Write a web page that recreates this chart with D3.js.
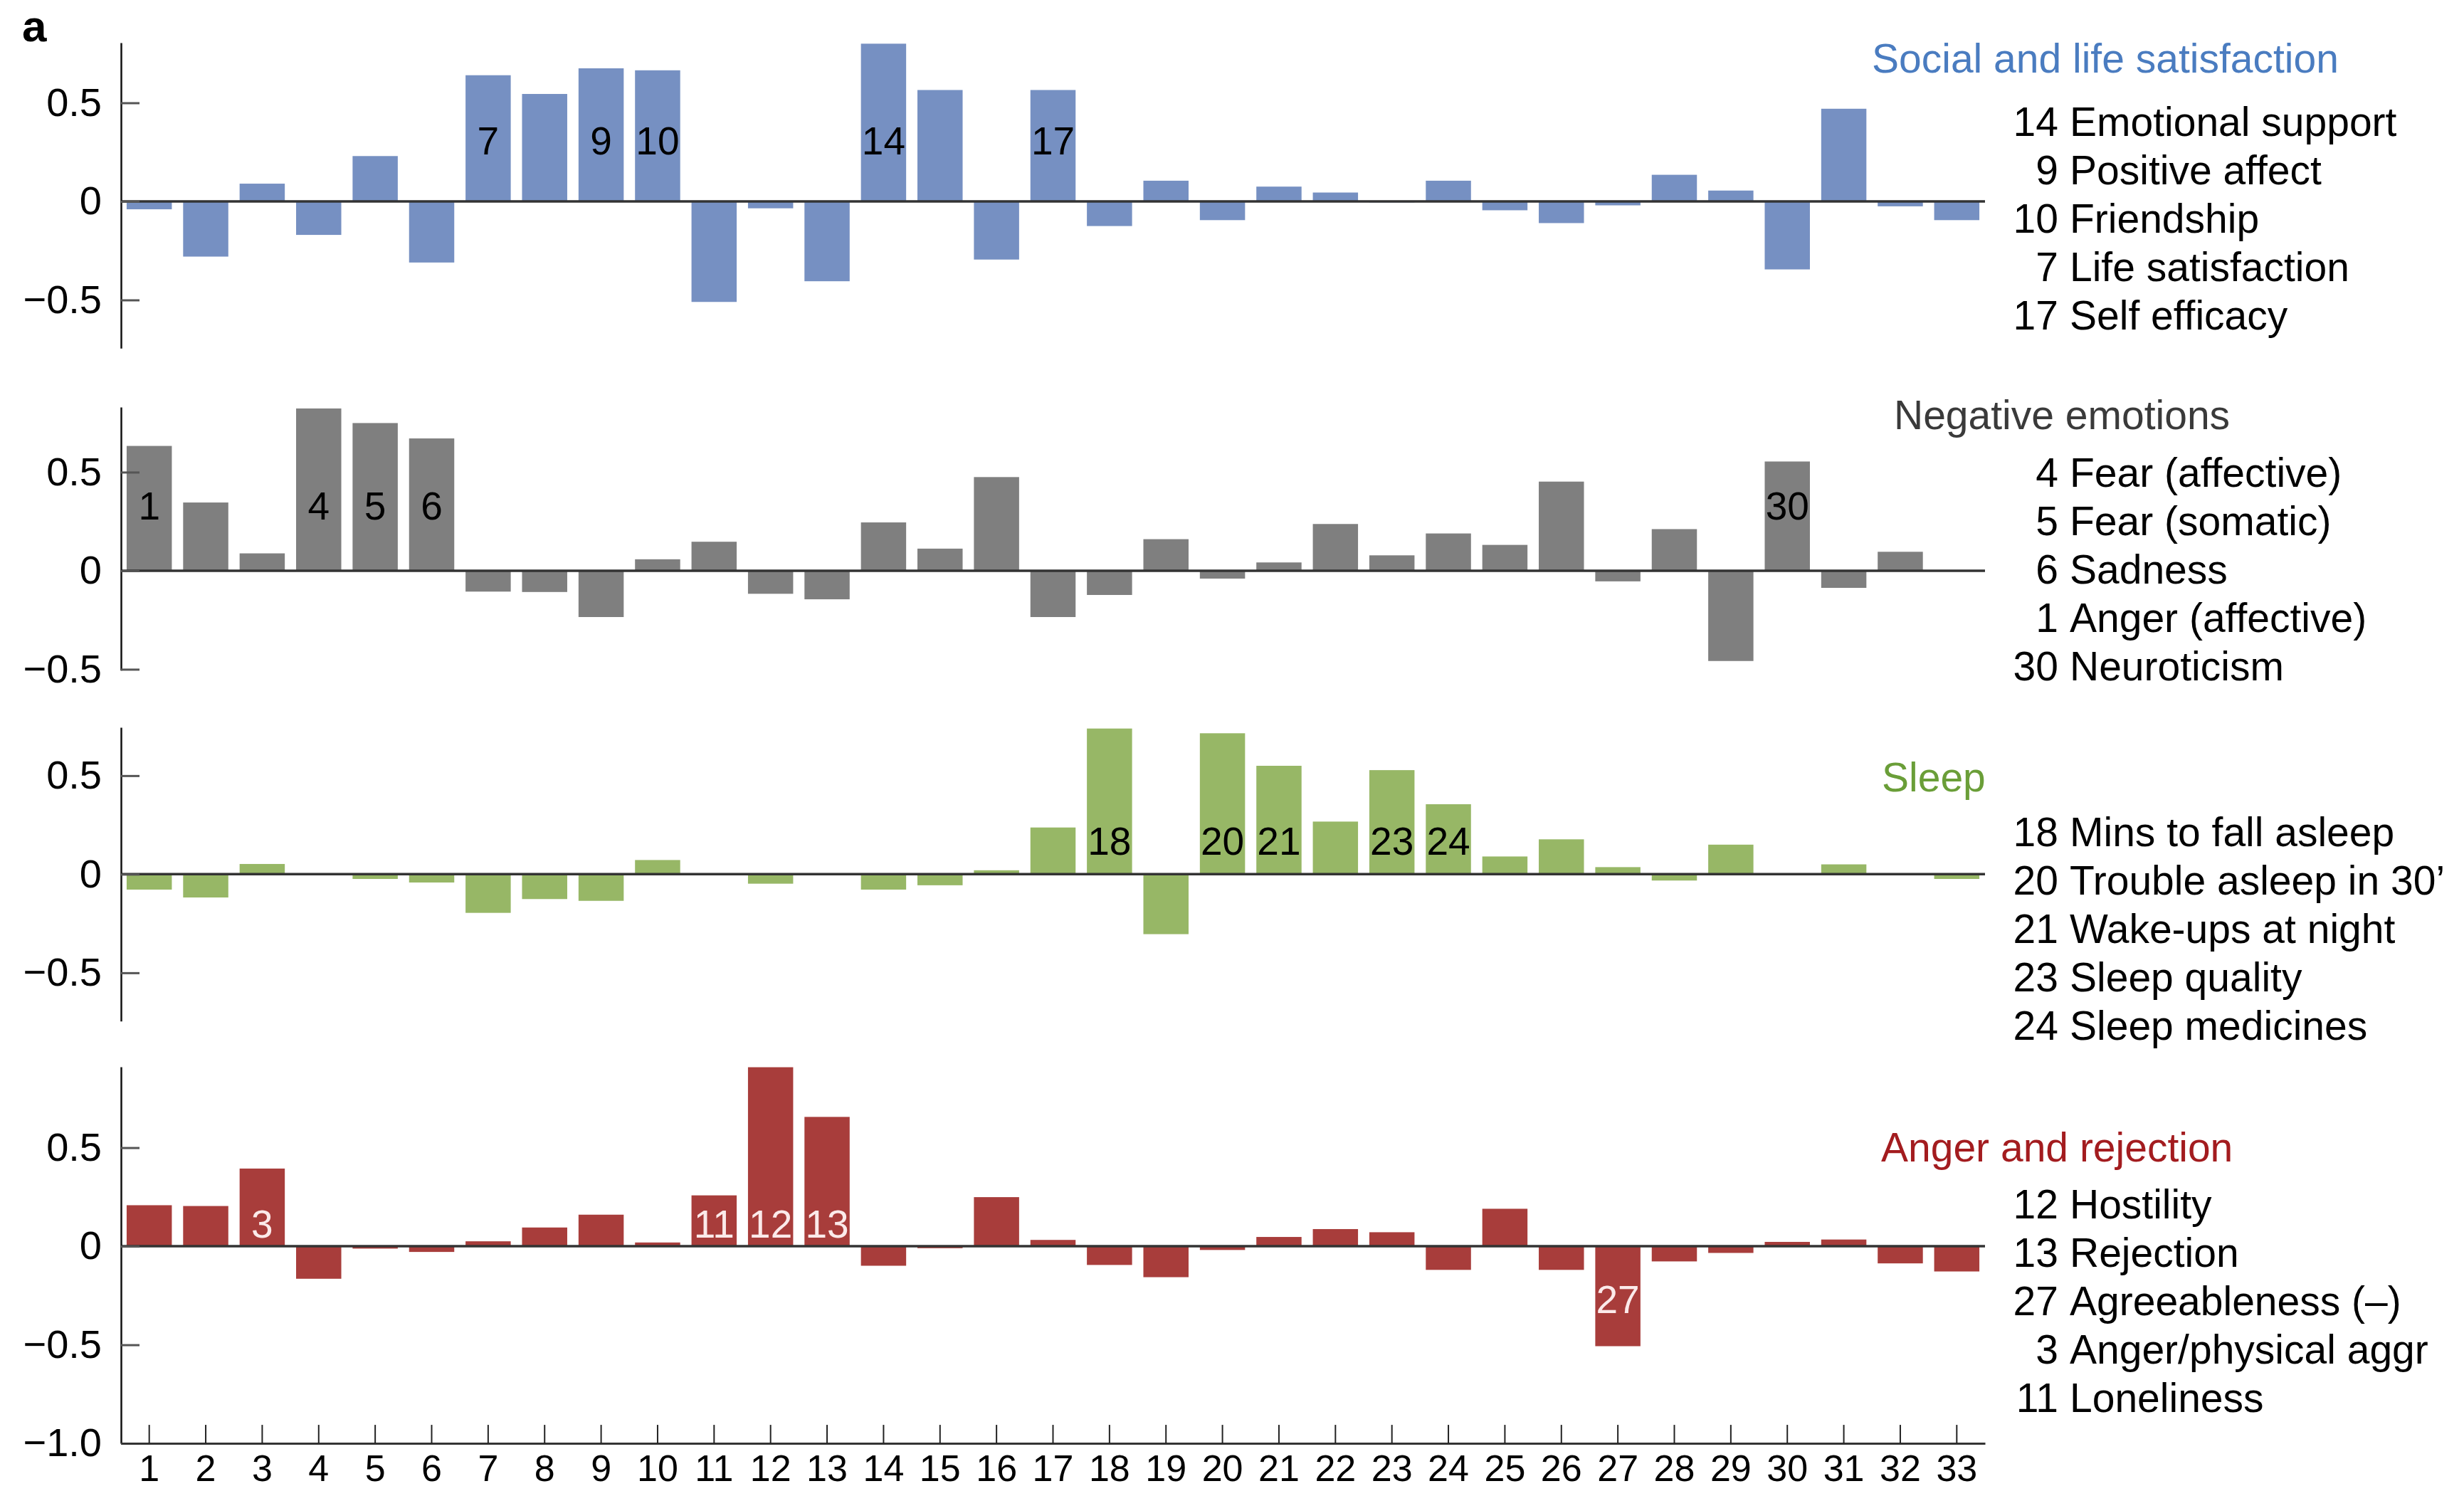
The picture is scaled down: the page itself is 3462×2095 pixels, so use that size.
<!DOCTYPE html>
<html>
<head>
<meta charset="utf-8">
<script src="https://cdn.jsdelivr.net/npm/d3@7"></script>
<style>
  html, body { margin: 0; padding: 0; background: #fff; }
  svg { display: block; font-family: "Liberation Sans", Arial, Helvetica, sans-serif; }
</style>
</head>
<body>
<svg id="chart" width="3462" height="2095"></svg>
<script>
// ---------------- DATA ----------------
const categories = d3.range(1, 34).map(String);

const social = [-0.04, -0.28, 0.09, -0.17, 0.23, -0.31, 0.64, 0.545, 0.675, 0.665,
  -0.51, -0.035, -0.405, 0.80, 0.565, -0.295, 0.565, -0.125, 0.105, -0.095,
  0.075, 0.045, -0.005, 0.105, -0.045, -0.11, -0.02, 0.135, 0.055, -0.345,
  0.47, -0.025, -0.095];

const negative = [0.633, 0.346, 0.088, 0.823, 0.749, 0.671, -0.106, -0.108, -0.235, 0.058,
  0.147, -0.117, -0.145, 0.245, 0.112, 0.475, -0.235, -0.123, 0.16, -0.04,
  0.042, 0.237, 0.078, 0.189, 0.131, 0.452, -0.054, 0.211, -0.458, 0.554,
  -0.087, 0.096, 0];

const sleep = [-0.078, -0.118, 0.052, 0.005, -0.024, -0.042, -0.196, -0.126, -0.135, 0.072,
  -0.003, -0.048, 0.0, -0.078, -0.056, 0.02, 0.237, 0.739, -0.304, 0.715,
  0.55, 0.267, 0.528, 0.355, 0.09, 0.177, 0.036, -0.032, 0.15, 0.0,
  0.05, 0.0, -0.024];

const anger = [0.208, 0.204, 0.394, -0.165, -0.012, -0.029, 0.025, 0.095, 0.16, 0.019,
  0.258, 0.908, 0.656, -0.099, -0.01, 0.249, 0.032, -0.095, -0.157, -0.019,
  0.047, 0.087, 0.071, -0.12, 0.19, -0.12, -0.507, -0.077, -0.034, 0.022,
  0.034, -0.087, -0.128];

// in-bar labels (bar number, and the value level where the label baseline sits)
const socialLabels = ["7", "9", "10", "14", "17"];
const socialLabelAt = [0.24, 0.24, 0.24, 0.24, 0.24];
const negativeLabels = ["1", "4", "5", "6", "30"];
const negativeLabelAt = [0.26, 0.26, 0.26, 0.26, 0.26];
const sleepLabels = ["18", "20", "21", "23", "24"];
const sleepLabelAt = [0.10, 0.10, 0.10, 0.10, 0.10];
const angerLabels = ["3", "11", "12", "13", "27"];
const angerLabelAt = [0.045, 0.045, 0.045, 0.045, -0.34];

// panel titles and legends
const titles = ["Social and life satisfaction", "Negative emotions", "Sleep", "Anger and rejection"];
const socialLegendNums = ["14", "9", "10", "7", "17"];
const socialLegendNames = ["Emotional support", "Positive affect", "Friendship", "Life satisfaction", "Self efficacy"];
const negativeLegendNums = ["4", "5", "6", "1", "30"];
const negativeLegendNames = ["Fear (affective)", "Fear (somatic)", "Sadness", "Anger (affective)", "Neuroticism"];
const sleepLegendNums = ["18", "20", "21", "23", "24"];
const sleepLegendNames = ["Mins to fall asleep", "Trouble asleep in 30\u2019", "Wake-ups at night", "Sleep quality", "Sleep medicines"];
const angerLegendNums = ["12", "13", "27", "3", "11"];
const angerLegendNames = ["Hostility", "Rejection", "Agreeableness (\u2013)", "Anger/physical aggr", "Loneliness"];

// axis ticks
const yTicks = [0.5, 0, -0.5];
const yTicksBottom = [0.5, 0, -0.5, -1.0];
const yTickLabel = d => d === 0 ? "0" : (d < 0 ? "\u2212" : "") + Math.abs(d).toFixed(1);

// ---------------- LAYOUT / STYLE ----------------
const UNIT = 277;        // px per 1.0 on every panel
const X0 = 170, X1 = 2789;
const panels = [
  { values: social, domain: [-0.745, 0.805], top: 60, ticks: yTicks, color: "#7690c2",
    labels: socialLabels, labelAt: socialLabelAt, labelColor: "#000",
    title: titles[0], titleColor: "#4a7cc0", titleX: 2630, titleY: 102,
    nums: socialLegendNums, names: socialLegendNames, legendY: 191 },
  { values: negative, domain: [-0.505, 0.83], top: 572, ticks: yTicks, color: "#7f7f7f",
    labels: negativeLabels, labelAt: negativeLabelAt, labelColor: "#000",
    title: titles[1], titleColor: "#3a3a3a", titleX: 2661, titleY: 603,
    nums: negativeLegendNums, names: negativeLegendNames, legendY: 684 },
  { values: sleep, domain: [-0.745, 0.745], top: 1022, ticks: yTicks, color: "#97b766",
    labels: sleepLabels, labelAt: sleepLabelAt, labelColor: "#000",
    title: titles[2], titleColor: "#6a9e38", titleX: 2644, titleY: 1112,
    nums: sleepLegendNums, names: sleepLegendNames, legendY: 1189 },
  { values: anger, domain: [-1.0, 0.91], top: 1499, ticks: yTicksBottom, color: "#a83d3b",
    labels: angerLabels, labelAt: angerLabelAt, labelColor: "#fbeaea",
    title: titles[3], titleColor: "#a31c1f", titleX: 2643, titleY: 1632,
    nums: angerLegendNums, names: angerLegendNames, legendY: 1712 }
];

const svg = d3.select("#chart");
svg.append("rect").attr("width", 3462).attr("height", 2095).attr("fill", "#fff");

const x = d3.scaleBand().domain(categories).range([X0, X1]).paddingInner(0.2).paddingOuter(0.1);

svg.append("text").attr("x", 31).attr("y", 58)
  .attr("font-size", 62).attr("font-weight", "bold").attr("fill", "#000").text("a");

panels.forEach((p, pi) => {
  const [lo, hi] = p.domain;
  const bottom = p.top + (hi - lo) * UNIT;
  const y = d3.scaleLinear().domain([lo, hi]).range([bottom, p.top]);
  const g = svg.append("g");

  // bars
  g.selectAll("rect.bar").data(p.values.map((v, i) => ({ v, c: categories[i] })))
    .join("rect").attr("class", "bar")
    .attr("x", d => x(d.c))
    .attr("width", x.bandwidth())
    .attr("y", d => y(Math.max(0, d.v)))
    .attr("height", d => Math.abs(y(d.v) - y(0)))
    .attr("fill", p.color);

  // zero line
  g.append("line").attr("x1", X0).attr("x2", X1).attr("y1", y(0)).attr("y2", y(0))
    .attr("stroke", "#333").attr("stroke-width", 3.5);

  // y axis
  const ya = g.append("g").attr("transform", `translate(${X0},0)`)
    .call(d3.axisLeft(y).tickValues(p.ticks).tickSize(-26).tickSizeOuter(0)
      .tickPadding(27).tickFormat(yTickLabel));
  ya.select(".domain").attr("stroke", "#111").attr("stroke-width", 2.5);
  ya.selectAll(".tick line").attr("stroke", "#555").attr("stroke-width", 3);
  ya.selectAll(".tick text").attr("font-size", 56).attr("fill", "#000")
    .attr("font-family", "'Liberation Sans', Arial, sans-serif");

  // in-bar labels
  g.selectAll("text.blab").data(p.labels.map((c, i) => ({ c, at: p.labelAt[i] })))
    .join("text").attr("class", "blab")
    .attr("x", d => x(d.c) + x.bandwidth() / 2)
    .attr("y", d => y(d.at))
    .attr("text-anchor", "middle")
    .attr("font-size", 55).attr("fill", p.labelColor)
    .text(d => d.c);

  // title
  svg.append("text").attr("x", p.titleX).attr("y", p.titleY)
    .attr("font-size", 57).attr("fill", p.titleColor).text(p.title);

  // legend
  const lg = svg.append("g");
  p.nums.forEach((n, i) => {
    const ly = p.legendY + i * 68;
    lg.append("text").attr("x", 2892).attr("y", ly).attr("text-anchor", "end")
      .attr("font-size", 57).attr("fill", "#000").text(n);
    lg.append("text").attr("x", 2908).attr("y", ly)
      .attr("font-size", 57).attr("fill", "#000").text(p.names[i]);
  });

  // x axis on the last panel
  if (pi === panels.length - 1) {
    const xa = g.append("g").attr("transform", `translate(0,${bottom})`)
      .call(d3.axisBottom(x).tickSize(-26).tickSizeOuter(0).tickPadding(16));
    xa.select(".domain").attr("stroke", "#333").attr("stroke-width", 3);
    xa.selectAll(".tick line").attr("stroke", "#222").attr("stroke-width", 2);
    xa.selectAll(".tick text").attr("font-size", 52).attr("fill", "#000")
      .attr("font-family", "'Liberation Sans', Arial, sans-serif");
  }
});
</script>
</body>
</html>
